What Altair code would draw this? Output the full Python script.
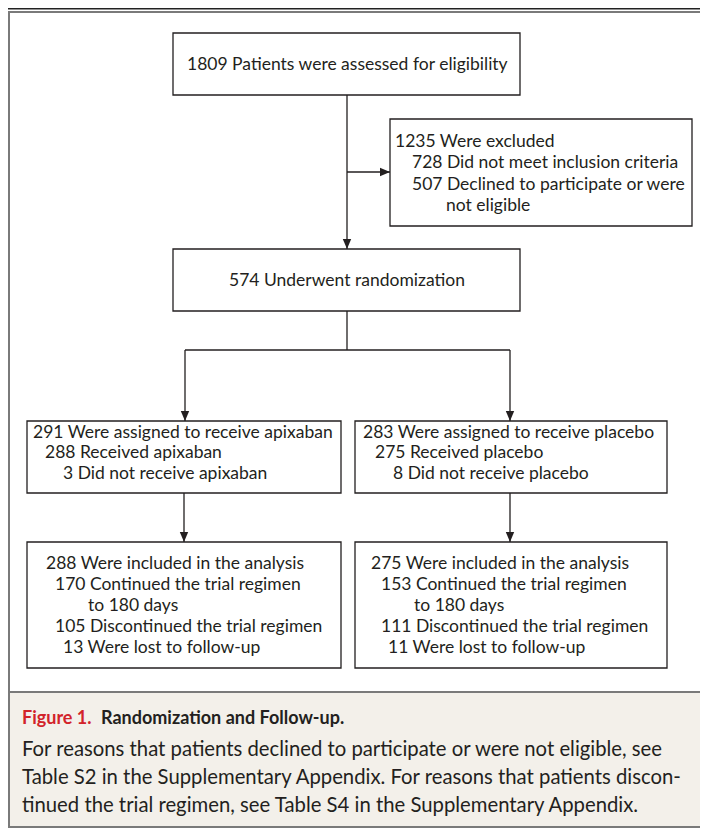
import altair as alt
import pandas as pd

FONT = "Lato"
INK = "#231f20"
RED = "#d2232a"
BEIGE = "#f3f0ea"
FRAME = "#7a7a7a"

# ---- text content ----
box_lines = [
    "1809 Patients were assessed for eligibility",
    "1235 Were excluded",
    "728 Did not meet inclusion criteria",
    "507 Declined to participate or were",
    "not eligible",
    "574 Underwent randomization",
    "291 Were assigned to receive apixaban",
    "288 Received apixaban",
    "3 Did not receive apixaban",
    "283 Were assigned to receive placebo",
    "275 Received placebo",
    "8 Did not receive placebo",
    "288 Were included in the analysis",
    "170 Continued the trial regimen",
    "to 180 days",
    "105 Discontinued the trial regimen",
    "13 Were lost to follow-up",
    "275 Were included in the analysis",
    "153 Continued the trial regimen",
    "to 180 days",
    "111 Discontinued the trial regimen",
    "11 Were lost to follow-up",
]
box_line_x = [187, 395, 412, 412, 446, 229,
              33, 45, 63, 363, 375, 393,
              46, 55, 88, 55, 63,
              371, 381, 414, 381, 388]
box_line_y = [65, 142, 163, 185, 206, 281,
              433, 453, 474, 433, 453, 474,
              564, 585, 606, 627, 648,
              564, 585, 606, 627, 648]

caption_title = ["Figure 1.", "Randomization and Follow-up."]
caption_title_x = [22, 101]
caption_title_color = [RED, INK]
caption_body = [
    "For reasons that patients declined to participate or were not eligible, see",
    "Table S2 in the Supplementary Appendix. For reasons that patients discon-",
    "tinued the trial regimen, see Table S4 in the Supplementary Appendix.",
]
caption_body_y = [750, 778, 806]

# ---- box geometry ----
box_x1 = [173, 390, 173, 27, 355, 27, 355]
box_x2 = [520, 692, 520, 341, 667, 341, 667]
box_y1 = [33, 119, 249, 421, 421, 542, 542]
box_y2 = [95, 226, 311, 493, 493, 668, 668]

# ---- connectors ----
seg_x1 = [347, 347, 347, 185, 185, 510, 184, 510]
seg_x2 = [347, 390, 347, 510, 185, 510, 184, 510]
seg_y1 = [95, 172, 311, 350, 350, 350, 493, 493]
seg_y2 = [249, 172, 350, 350, 421, 421, 542, 542]

arrow_x = [347, 185, 510, 184, 510]
arrow_y = [249, 421, 421, 542, 542]
arrow_r_x = [390]
arrow_r_y = [172]

xs = alt.Scale(domain=[8, 700], nice=False, zero=False)
ys = alt.Scale(domain=[8, 828], nice=False, zero=False, reverse=True)


def X(f):
    return alt.X(f, type="quantitative", scale=xs, axis=None)


def Y(f):
    return alt.Y(f, type="quantitative", scale=ys, axis=None)


# background / frame
frame_df = pd.DataFrame({"x1": [9], "x2": [720], "y1": [12], "y2": [827]})
beige_df = pd.DataFrame({"x1": [9], "x2": [720], "y1": [692], "y2": [827]})
topline_df = pd.DataFrame({"x1": [8], "x2": [700], "y": [8.8]})

beige = alt.Chart(beige_df).mark_rect(fill=BEIGE, stroke=FRAME, strokeWidth=2).encode(
    x=X("x1"), x2="x2", y=Y("y1"), y2="y2")
frame = alt.Chart(frame_df).mark_rect(fill="transparent", stroke=FRAME, strokeWidth=2).encode(
    x=X("x1"), x2="x2", y=Y("y1"), y2="y2")
topline = alt.Chart(topline_df).mark_rule(color="#222222", strokeWidth=1.6).encode(
    x=X("x1"), x2="x2", y=Y("y"))

boxes_df = pd.DataFrame({"x1": box_x1, "x2": box_x2, "y1": box_y1, "y2": box_y2})
boxes = alt.Chart(boxes_df).mark_rect(fill="white", stroke=INK, strokeWidth=1.3).encode(
    x=X("x1"), x2="x2", y=Y("y1"), y2="y2")

segs_df = pd.DataFrame({"x1": seg_x1, "x2": seg_x2, "y1": seg_y1, "y2": seg_y2})
segs = alt.Chart(segs_df).mark_rule(color=INK, strokeWidth=1.3).encode(
    x=X("x1"), x2="x2", y=Y("y1"), y2="y2")

arr_df = pd.DataFrame({"x": arrow_x, "y": arrow_y})
arrows_down = alt.Chart(arr_df).mark_point(
    shape="M -0.42 -1 L 0.42 -1 L 0 0 Z", size=400, filled=True, color=INK, opacity=1,
    strokeWidth=0
).encode(x=X("x"), y=Y("y"))
arr_r_df = pd.DataFrame({"x": arrow_r_x, "y": arrow_r_y})
arrows_right = alt.Chart(arr_r_df).mark_point(
    shape="M -1 -0.42 L -1 0.42 L 0 0 Z", size=400, filled=True, color=INK, opacity=1,
    strokeWidth=0
).encode(x=X("x"), y=Y("y"))

text_df = pd.DataFrame({"t": box_lines, "x": box_line_x, "y": box_line_y})
texts = alt.Chart(text_df).mark_text(
    align="left", baseline="middle", font=FONT, fontSize=17.5, color=INK
).encode(x=X("x"), y=Y("y"), text="t:N")

cap_t_df = pd.DataFrame({"t": caption_title, "x": caption_title_x, "y": [719, 719],
                         "c": caption_title_color})
cap_title = alt.Chart(cap_t_df).mark_text(
    align="left", baseline="middle", font=FONT, fontSize=18, fontWeight="bold"
).encode(x=X("x"), y=Y("y"), text="t:N", color=alt.Color("c:N", scale=None))

cap_b_df = pd.DataFrame({"t": caption_body, "x": [22, 22, 22], "y": caption_body_y})
cap_body = alt.Chart(cap_b_df).mark_text(
    align="left", baseline="middle", font=FONT, fontSize=20.3, color=INK
).encode(x=X("x"), y=Y("y"), text="t:N")

chart = alt.layer(
    frame, beige, topline, segs, boxes, arrows_down, arrows_right, texts, cap_title, cap_body
).properties(
    width=692, height=820, padding=0,
    autosize=alt.AutoSizeParams(type="none"),
    background="white",
).configure_view(strokeWidth=0)

chart.save("out.html", embed_options={"renderer": "svg", "actions": False})
